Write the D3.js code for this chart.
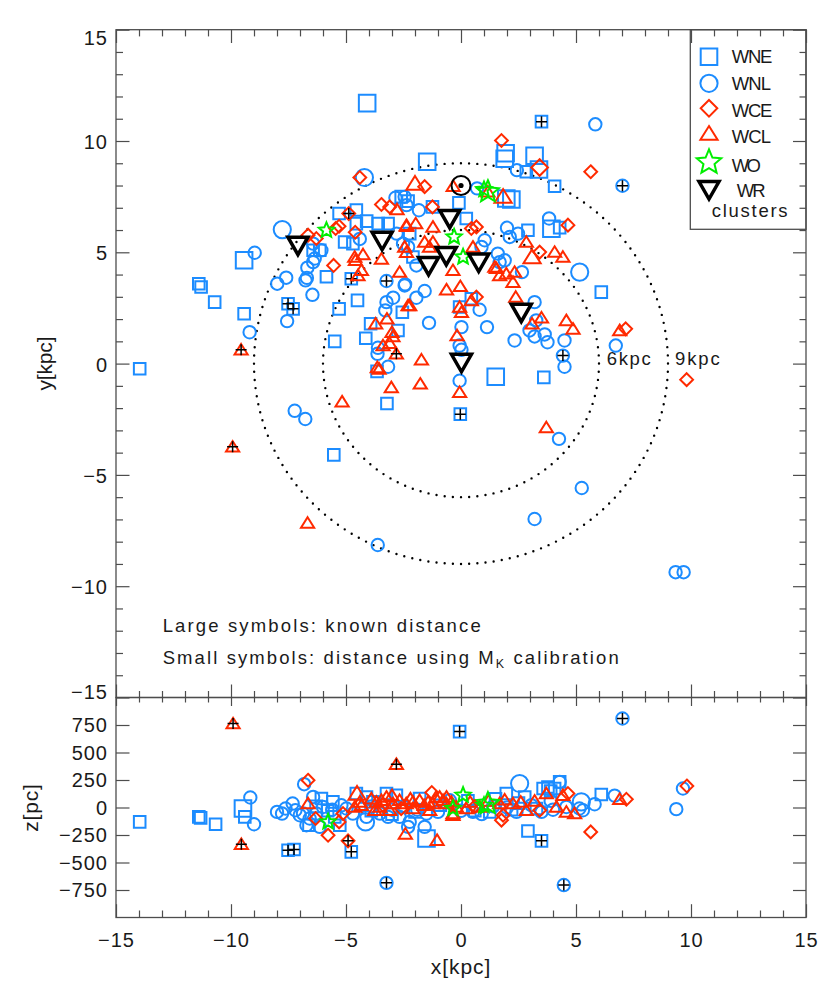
<!DOCTYPE html>
<html><head><meta charset="utf-8">
<script src="https://cdn.jsdelivr.net/npm/d3@7"></script>
<style>
body{margin:0;background:#fff}
svg{display:block}
</style>
</head><body>
<svg id="chart" width="830" height="997"></svg>
<script>
// ---------------- DATA ----------------
const xTickValues = [-15,-10,-5,0,5,10,15];
const yTickValues = [-15,-10,-5,0,5,10,15];
const zTickValues = [-750,-500,-250,0,250,500,750];
const ringRadii = [6, 9];
const ringLabels = ["6kpc", "9kpc"];
const sunXY = [0, 8];
const legendLabels = ["WNE","WNL","WCE","WCL","WO","WR"];
const noteLine1 = "Large symbols: known distance";
const noteLine2 = ["Small symbols: distance using M", "K", " calibration"];

// rows: [x (kpc), y (kpc), knownDistance, highZ]
const wneXY = [[-13.97,-0.23,0,0],[-11.4,3.59,0,0],[-11.3,3.44,0,0],[-10.71,2.76,0,0],[-9.43,4.64,1,0],[-9.43,2.24,0,0],[-7.52,2.69,0,1],[-7.3,2.46,0,1],[-6.43,5.09,0,0],[-6.14,5.09,0,0],[-5.85,3.9,0,0],[-5.49,1.0,0,0],[-5.3,2.46,0,0],[-4.77,3.81,0,1],[-4.5,2.84,0,0],[-4.14,1.14,0,0],[-3.93,1.79,0,0],[-2.74,1.49,0,0],[-2.55,2.31,0,0],[-3.65,-0.35,0,0],[-3.22,-1.79,0,0],[-5.53,-4.1,0,0],[-0.03,-2.27,0,1],[1.51,-0.59,1,0],[3.6,-0.62,0,0],[6.1,3.21,0,0],[-0.06,2.54,0,0],[0.45,2.91,0,0],[-4.08,11.7,1,0],[-1.47,9.07,1,0],[3.5,10.87,0,1],[1.94,9.45,1,0],[1.9,9.2,1,0],[3.2,9.34,1,0],[3.39,8.72,1,0],[2.84,8.62,0,0],[4.07,7.97,0,0],[1.97,7.42,1,0],[2.19,7.37,1,0],[-0.09,7.22,0,0],[-1.24,7.04,0,0],[0.23,6.52,0,0],[2.91,5.99,0,0],[3.93,6.06,1,0],[4.29,6.11,0,0],[-5.3,6.74,0,0],[-4.55,6.9,0,0],[-4.55,6.29,0,0],[-4.1,6.4,0,0],[-3.6,6.29,0,0],[-3.17,6.29,0,0],[-2.6,7.5,0,0],[-2.3,7.3,0,0],[-5.06,5.46,0,0],[-4.7,5.39,0,0],[-2.23,5.84,0,0],[-2.09,4.79,0,0]];
const wnlXY = [[-4.2,8.36,1,0],[-7.77,6.02,1,0],[-8.97,4.98,0,0],[-6.43,5.39,0,0],[-6.07,5.09,0,0],[-6.36,4.72,0,0],[-6.68,4.31,0,0],[-6.43,4.56,0,0],[-6.76,3.74,0,0],[-6.7,3.85,0,0],[-6.46,3.09,0,0],[-7.99,3.59,0,0],[-7.6,3.86,0,0],[-7.56,1.91,0,0],[-9.19,1.41,0,0],[-4.4,5.6,0,0],[-3.24,3.71,0,1],[-2.43,3.56,0,0],[-3.24,2.76,0,0],[-2.95,2.96,0,0],[-3.29,2.39,0,0],[-3.61,0.71,0,0],[-3.63,0.44,0,0],[-3.17,-0.14,0,0],[-7.23,-2.12,0,0],[-6.77,-2.49,0,0],[-3.62,-8.15,0,0],[-2.45,3.51,0,0],[-1.94,2.96,0,0],[-1.58,3.26,0,0],[0.81,2.42,0,0],[-1.39,1.83,0,0],[0.02,1.64,0,0],[1.13,1.64,0,0],[-0.06,0.81,0,0],[0.02,0.62,0,0],[-0.06,-0.77,0,0],[3.2,2.76,0,0],[2.33,1.04,0,0],[3.76,0.96,0,0],[3.64,1.31,0,0],[3.2,1.22,0,0],[2.98,1.49,0,0],[3.27,1.94,0,0],[4.5,1.04,0,0],[4.5,-0.14,0,0],[4.43,0.36,0,1],[6.73,0.81,0,0],[4.26,-3.38,0,0],[5.25,-5.59,0,0],[3.2,-6.98,0,0],[9.33,-9.37,0,0],[9.68,-9.37,0,0],[5.84,10.75,0,0],[7.02,7.99,0,1],[0.7,7.87,0,0],[2.43,8.69,0,0],[-2.45,7.49,0,0],[-2.37,7.12,0,0],[-1.83,6.89,0,0],[2.0,6.1,0,0],[2.48,5.84,0,0],[2.12,5.69,0,0],[3.83,6.52,0,0],[1.03,5.54,0,0],[0.89,5.24,0,0],[1.6,4.94,0,0],[1.9,4.64,0,0],[1.68,4.56,0,0],[2.65,4.11,0,0],[5.16,4.11,1,0],[-1.94,4.41,0,0],[-2.3,5.24,0,0],[-2.52,5.39,0,0],[-2.8,5.84,0,0],[-2.85,7.45,0,0]];
const wceXY = [[-4.4,8.36,0,0],[-3.46,7.15,0,0],[-3.1,7.04,0,0],[-4.88,6.74,0,1],[-4.6,5.9,0,0],[-5.3,6.17,0,0],[-5.45,6.07,0,0],[-6.29,5.62,0,0],[-6.65,5.77,0,0],[-5.54,4.41,0,0],[1.76,10.02,0,0],[3.42,8.81,1,0],[5.64,8.62,0,0],[-1.58,7.95,0,0],[-1.24,7.04,0,0],[0.67,6.14,0,0],[0.45,6.07,0,0],[4.65,6.22,0,0],[3.42,5.01,0,0],[0.67,2.99,0,0],[7.16,1.56,0,0],[9.81,-0.72,0,0]];
const wclXY = [[-2.0,8.09,1,0],[-0.34,7.97,0,0],[1.83,7.5,1,0],[1.17,7.72,0,0],[-2.37,6.22,0,0],[-1.97,6.29,0,0],[-1.22,6.14,0,0],[-2.78,6.92,0,0],[-2.37,6.17,0,0],[-3.46,4.7,0,0],[-4.62,4.79,0,0],[-4.26,4.9,0,0],[-4.33,4.19,0,0],[-2.67,4.11,0,0],[-4.59,4.64,0,0],[-4.48,3.96,0,0],[2.84,5.46,0,0],[3.09,4.79,1,0],[4.07,5.01,0,0],[4.43,4.79,0,0],[1.54,4.28,0,0],[1.97,4.04,0,0],[2.33,4.11,0,0],[-0.63,3.32,0,0],[-0.03,3.47,0,0],[-0.06,2.54,0,0],[0.02,2.31,0,0],[0.45,2.84,0,0],[-2.23,2.61,0,0],[-3.71,1.79,0,0],[-3.22,2.01,0,0],[-2.3,2.61,0,0],[-3.0,1.41,0,0],[-2.96,1.22,0,0],[-3.39,0.81,0,0],[-3.1,0.91,0,0],[-2.81,0.44,0,1],[-3.64,-0.17,0,0],[-3.56,-0.24,0,0],[-3.03,-1.07,0,0],[-5.17,-1.71,0,0],[-9.56,0.62,0,1],[-9.93,-3.74,0,1],[-6.67,-7.16,0,0],[-0.17,1.26,0,0],[-1.72,0.17,0,0],[-1.77,-0.91,0,0],[-0.06,-1.29,0,0],[3.71,-2.87,0,0],[2.38,2.99,0,0],[3.09,1.79,0,0],[3.5,2.06,0,0],[4.58,1.94,0,0],[4.87,1.56,0,0],[6.9,1.49,0,0],[2.26,3.66,0,0],[1.68,3.96,0,0],[1.47,4.34,0,0],[-1.58,5.46,0,0],[-1.37,5.24,0,0],[-1.22,5.46,0,0],[-2.45,5.24,0,0],[-2.37,5.0,0,0],[-0.35,4.19,0,0],[0.52,5.24,0,0]];
const woXY = [[-5.85,5.99,0,0],[1.17,7.72,1,0],[1.0,7.82,0,0],[-0.3,5.69,0,0],[0.09,4.79,0,0]];
const clusterXY = [[-7.09,5.32],[-3.43,5.54],[-0.49,6.52],[-1.41,4.41],[-0.64,4.86],[0.77,4.56],[2.62,2.31],[0.02,0.06]];

// rows: [x (kpc), z (pc), knownDistance, highZ]
const wneXZ = [[-13.97,-131,0,0],[-11.4,-85,0,0],[-11.32,-94,0,0],[-10.67,-152,0,0],[-9.48,-9,1,0],[-9.4,-85,0,0],[-7.52,-388,0,1],[-7.26,-382,0,1],[-6.61,-161,0,0],[-6.07,82,0,0],[-5.57,51,0,0],[-5.49,-85,0,0],[-5.27,-161,0,0],[-4.77,-403,0,1],[-4.55,127,0,0],[-4.11,96,0,0],[-3.83,51,0,0],[-3.24,127,0,0],[-2.81,112,0,0],[-1.8,82,0,0],[-1.5,-282,1,0],[-0.06,690,0,1],[2.91,-213,0,0],[3.5,-303,0,1],[4.29,233,0,0],[6.1,118,0,0],[3.57,173,0,0],[3.78,187,0,0],[4.07,173,0,0],[1.97,127,0,0],[2.77,96,0,0],[3.28,-9,0,0],[1.25,-40,0,0],[-3.9,-30,0,0],[-3.0,-60,0,0],[-2.0,-40,0,0],[-0.9,20,0,0],[0.3,60,0,0],[0.6,-30,0,0],[1.5,80,0,0],[2.2,-20,0,0],[2.5,40,0,0],[-5.8,-30,0,0],[-6.3,10,0,0],[3.9,150,0,0]];
const wnlXZ = [[-9.16,91,0,0],[-9.0,-152,0,0],[-8.0,-40,0,0],[-7.78,-55,0,0],[-7.63,-9,0,0],[-7.32,36,0,0],[-7.2,-25,0,0],[-6.87,-55,0,0],[-6.82,212,0,0],[-7.01,-70,0,0],[-6.43,96,0,0],[-6.72,-161,0,0],[-6.58,-100,0,0],[-6.29,-55,0,0],[-6.14,-176,0,0],[-6.0,5,0,0],[-3.24,-685,0,1],[-2.3,-176,0,0],[-4.15,-131,1,0],[-3.53,-55,0,0],[-3.17,-85,0,0],[-2.67,-85,0,0],[-2.23,-131,0,0],[-1.5,-55,0,0],[-1.58,-176,0,0],[-0.49,66,0,0],[-4.98,-9,0,0],[-4.7,-55,0,0],[-4.11,-85,0,0],[2.55,218,1,0],[4.29,233,0,0],[5.23,51,1,0],[5.15,-9,0,0],[5.3,-25,0,0],[5.81,30,0,0],[4.58,5,0,0],[0.52,-40,0,0],[2.41,-40,0,0],[3.06,21,0,0],[6.68,108,0,0],[9.65,173,0,0],[9.36,-15,0,0],[7.02,809,0,1],[4.47,-705,0,1],[-5.6,-20,0,0],[-5.2,20,0,0],[-3.9,10,0,0],[-3.0,-20,0,0],[-2.5,10,0,0],[-1.9,-20,0,0],[-1.0,-40,0,0],[0.0,-30,0,0],[0.9,-60,0,0],[1.4,10,0,0],[2.0,0,0,0],[3.5,-40,0,0],[3.9,60,0,0],[4.0,-20,0,0]];
const wceXZ = [[-6.65,248,0,0],[-5.78,-252,0,0],[-6.32,-100,0,0],[-5.3,-131,0,0],[-5.13,-55,0,0],[-4.91,-303,0,1],[-1.27,136,0,0],[4.65,127,0,0],[7.19,75,0,0],[9.82,196,0,0],[5.64,-222,0,0],[1.76,-115,0,0],[1.83,-70,0,0],[3.42,-25,0,0],[-3.4,20,0,0],[-2.6,-10,0,0],[0.6,10,0,0]];
const wclXZ = [[-9.91,763,0,1],[-9.55,-334,0,1],[-6.65,36,0,0],[-4.52,127,1,0],[-2.81,394,0,1],[-2.42,-240,0,0],[-1.04,-297,0,0],[-4.4,51,0,0],[-4.33,21,0,0],[-4.62,5,0,0],[-3.68,51,0,0],[-3.46,66,0,0],[-3.24,96,0,0],[-2.95,36,0,0],[-2.67,66,0,0],[-2.38,36,0,0],[-2.09,51,0,0],[-1.8,66,0,0],[-1.43,51,0,0],[-1.22,36,0,0],[-0.78,66,0,0],[-0.63,96,0,0],[-0.42,51,0,0],[-0.2,5,0,0],[-3.53,5,0,0],[-3.75,-25,0,0],[-3.1,-25,0,0],[-2.09,-9,0,0],[-1.36,-25,0,0],[-0.35,-70,0,0],[-0.93,96,0,0],[-0.63,36,0,0],[-0.35,-55,0,0],[0.23,-9,0,0],[0.81,5,0,0],[1.68,36,0,0],[2.26,36,0,0],[2.84,-25,0,0],[3.71,127,0,0],[4.15,5,0,0],[4.43,112,0,0],[4.58,-40,0,0],[4.94,-55,0,0],[6.9,75,0,0],[-3.9,80,0,0],[-3.0,110,0,0],[-2.2,80,0,0],[-1.6,20,0,0],[-1.1,90,0,0],[0.4,50,0,0],[1.2,60,0,0],[1.9,70,0,0],[2.6,50,0,0],[3.2,60,0,0]];
const woXZ = [[-5.78,-131,0,0],[-0.35,-9,0,0],[0.09,112,0,0],[1.17,36,1,0],[1.0,20,0,0]];

// ---------------- DRAWING ----------------
const FONT = "'Liberation Sans', Arial, sans-serif";
const BLUE = "#1c8cff", RED = "#ff2a00", GREEN = "#00ee00", BLACK = "#000";
const AXC = "#4d4d4d", TXT = "#1a1a1a";

const svg = d3.select("#chart");
const xS = d3.scaleLinear().domain([-15,15]).range([116,806]);
const yS = d3.scaleLinear().domain([-15,15]).range([697.5,29.7]);
const zS = d3.scaleLinear().domain([-1000,1000]).range([917.5,697.5]);

function fmt(d){ return d < 0 ? "\u2212" + Math.abs(d) : String(d); }

function shapePath(shape, big){
  let s;
  switch(shape){
    case "square": s = big ? 8.3 : 5.8; return `M${-s},${-s}H${s}V${s}H${-s}Z`;
    case "circle": { s = big ? 8.6 : 6.2; const p = d3.path(); p.arc(0,0,s,0,2*Math.PI); p.closePath(); return p.toString(); }
    case "diamond": s = big ? 8.3 : 6.4; return `M0,${-s}L${s},0L0,${s}L${-s},0Z`;
    case "triangle": { const w = big ? 8.6 : 6.6, h = w*1.6; return `M0,${-h*0.55}L${w},${h*0.45}L${-w},${h*0.45}Z`; }
    case "star": {
      const R = big ? 11.5 : 8, r = R*0.45; let d = "";
      for(let i=0;i<10;i++){ const a = -Math.PI/2 + i*Math.PI/5; const rr = i%2 ? r : R;
        d += (i ? "L" : "M") + (rr*Math.cos(a)).toFixed(2) + "," + (rr*Math.sin(a)).toFixed(2); }
      return d + "Z";
    }
    case "cluster": return "M-10,-8L10,-8L0,9.5Z";
  }
}

const groups = [
  {shape:"square",  color:BLUE,  xy:wneXY, xz:wneXZ},
  {shape:"circle",  color:BLUE,  xy:wnlXY, xz:wnlXZ},
  {shape:"diamond", color:RED,   xy:wceXY, xz:wceXZ},
  {shape:"triangle",color:RED,   xy:wclXY, xz:wclXZ},
  {shape:"star",    color:GREEN, xy:woXY,  xz:woXZ}
];

function drawAxis(gen, scale, vals, size, tr, labels, pad){
  const ax = gen(scale).tickValues(vals).tickSize(size).tickPadding(pad || 8)
    .tickFormat(labels ? fmt : () => "");
  const g = svg.append("g").attr("transform", tr).call(ax);
  g.select(".domain").remove();
  g.attr("font-family", FONT).attr("font-size", 20);
  g.selectAll(".tick line").attr("stroke", AXC).attr("stroke-width", 1.2);
  g.selectAll(".tick text").attr("fill", TXT).attr("letter-spacing", 1);
  return g;
}
const minor = d3.range(-15,16).filter(d => d % 5 !== 0);

svg.append("rect").attr("x",xS(-15)).attr("y",yS(15)).attr("width",xS(15)-xS(-15)).attr("height",yS(-15)-yS(15))
  .attr("fill","none").attr("stroke",AXC).attr("stroke-width",1.3);
svg.append("rect").attr("x",xS(-15)).attr("y",zS(1000)).attr("width",xS(15)-xS(-15)).attr("height",zS(-1000)-zS(1000))
  .attr("fill","none").attr("stroke",AXC).attr("stroke-width",1.3);

const yl = drawAxis(d3.axisLeft, yS, yTickValues, -13.5, `translate(${xS(-15)},0)`, true, 8);
yl.selectAll(".tick text").attr("dy", d => d === 15 ? "14.3px" : d === -15 ? "0.5px" : "7.5px");
drawAxis(d3.axisLeft, yS, minor, -7, `translate(${xS(-15)},0)`, false);
drawAxis(d3.axisRight, yS, yTickValues, -13, `translate(${xS(15)},0)`, false);
drawAxis(d3.axisRight, yS, minor, -6.5, `translate(${xS(15)},0)`, false);
drawAxis(d3.axisTop, xS, xTickValues, -13.3, `translate(0,${yS(15)})`, false);
drawAxis(d3.axisTop, xS, minor, -6.7, `translate(0,${yS(15)})`, false);
drawAxis(d3.axisBottom, xS, xTickValues, -13, `translate(0,${yS(-15)})`, false);
drawAxis(d3.axisBottom, xS, minor, -6.5, `translate(0,${yS(-15)})`, false);

const zl = drawAxis(d3.axisLeft, zS, zTickValues, -13.5, `translate(${xS(-15)},0)`, true, 8);
zl.selectAll(".tick text").attr("dy", "6.7px");
drawAxis(d3.axisRight, zS, zTickValues, -13, `translate(${xS(15)},0)`, false);
drawAxis(d3.axisTop, xS, xTickValues, -8.5, `translate(0,${zS(1000)})`, false);
drawAxis(d3.axisTop, xS, minor, -5, `translate(0,${zS(1000)})`, false);
drawAxis(d3.axisBottom, xS, xTickValues, -13.3, `translate(0,${zS(-1000)})`, true, 15);
drawAxis(d3.axisBottom, xS, minor, -7, `translate(0,${zS(-1000)})`, false);

function fit(sel, target){
  const node = sel.node(); const w = node.getComputedTextLength();
  const n = node.textContent.length;
  if(n > 1) sel.attr("letter-spacing", ((target - w) / (n - 0.5)).toFixed(2));
}
function txt(x, y, s, size, anchor){
  return svg.append("text").attr("x",x).attr("y",y).attr("font-family",FONT).attr("font-size",size)
    .attr("fill",TXT).attr("text-anchor",anchor||"start").text(s);
}

const yt = svg.append("text").attr("transform",`translate(52,${yS(0)}) rotate(-90)`).attr("text-anchor","middle")
  .attr("font-family",FONT).attr("font-size",21).attr("fill",TXT).text("y[kpc]");
fit(yt, 54);
const zt = svg.append("text").attr("transform",`translate(38,${zS(0)}) rotate(-90)`).attr("text-anchor","middle")
  .attr("font-family",FONT).attr("font-size",21).attr("fill",TXT).text("z[pc]");
fit(zt, 48);
const xt = txt(xS(0), 974, "x[kpc]", 21, "middle");
fit(xt, 60);

ringRadii.forEach((r) => {
  svg.append("ellipse").attr("cx", xS(0)).attr("cy", yS(0))
    .attr("rx", xS(r) - xS(0)).attr("ry", yS(0) - yS(r))
    .attr("fill","none").attr("stroke",BLACK).attr("stroke-width",2.4)
    .attr("stroke-linecap","round").attr("stroke-dasharray","0 8.2");
});
const r6 = txt(606.7, 365, ringLabels[0], 18.5); fit(r6, 45);
const r9 = txt(675, 365, ringLabels[1], 18.5); fit(r9, 45.7);

const n1 = txt(162.7, 631.7, noteLine1, 18.5); fit(n1, 319);
const n2 = svg.append("text").attr("x",162.7).attr("y",664).attr("font-family",FONT).attr("font-size",18.5).attr("fill",TXT);
n2.append("tspan").text(noteLine2[0]);
n2.append("tspan").attr("font-size",12.5).attr("dy",4).text(noteLine2[1]);
n2.append("tspan").attr("dy",-4).text(noteLine2[2]);
fit(n2, 457);

function drawPoints(data, yScale, shape, color){
  const g = svg.append("g");
  g.selectAll("path.sym").data(data).join("path").attr("class","sym")
    .attr("transform", d => `translate(${xS(d[0])},${yScale(d[1])})`)
    .attr("d", d => shapePath(shape, d[2] === 1))
    .attr("fill","none").attr("stroke",color).attr("stroke-width",2).attr("stroke-linejoin","miter");
  g.selectAll("path.cross").data(data.filter(d => d[3] === 1)).join("path").attr("class","cross")
    .attr("transform", d => `translate(${xS(d[0])},${yScale(d[1])})`)
    .attr("d", "M-5.5,0H5.5M0,-5.5V5.5")
    .attr("stroke",BLACK).attr("stroke-width",1.5);
}
groups.forEach(gr => drawPoints(gr.xy, yS, gr.shape, gr.color));
groups.forEach(gr => drawPoints(gr.xz, zS, gr.shape, gr.color));

svg.append("g").selectAll("path").data(clusterXY).join("path")
  .attr("transform", d => `translate(${xS(d[0])},${yS(d[1])})`)
  .attr("d", shapePath("cluster")).attr("fill","none").attr("stroke",BLACK)
  .attr("stroke-width",3.5).attr("stroke-linejoin","miter");

svg.append("circle").attr("cx",xS(sunXY[0])).attr("cy",yS(sunXY[1])).attr("r",9.5)
  .attr("fill","none").attr("stroke",BLACK).attr("stroke-width",2);
svg.append("circle").attr("cx",xS(sunXY[0])).attr("cy",yS(sunXY[1])).attr("r",2.6).attr("fill",BLACK);

svg.append("rect").attr("x",690.3).attr("y",yS(15)).attr("width",xS(15)-690.3).attr("height",229.3-yS(15))
  .attr("fill","none").attr("stroke",AXC).attr("stroke-width",1.3);
const legShapes = ["square","circle","diamond","triangle","star","cluster"];
const legColors = [BLUE, BLUE, RED, RED, GREEN, BLACK];
const legSymY = [56.7, 83.3, 108.3, 133.6, 162.3, 189.5];
const legTxtY = [63.3, 90, 116.7, 143.3, 171.7, 196.7];
const legW = [40, 39, 40, 39, 28, 28];
legendLabels.forEach((lab, i) => {
  let d = shapePath(legShapes[i], true);
  if(legShapes[i] === "star") d = d.replace(/-?\d+\.\d+/g, v => (parseFloat(v)*1.12).toFixed(2));
  svg.append("path").attr("transform",`translate(709,${legSymY[i]})`).attr("d", d)
    .attr("fill","none").attr("stroke",legColors[i]).attr("stroke-width", i === 5 ? 3.5 : 2);
  const t = txt(i === 5 ? 736.7 : 731.7, legTxtY[i], lab, 18.5); fit(t, legW[i]);
});
const cl = txt(711.7, 216.7, "clusters", 18.5); fit(cl, 76.7);
</script>
</body></html>
